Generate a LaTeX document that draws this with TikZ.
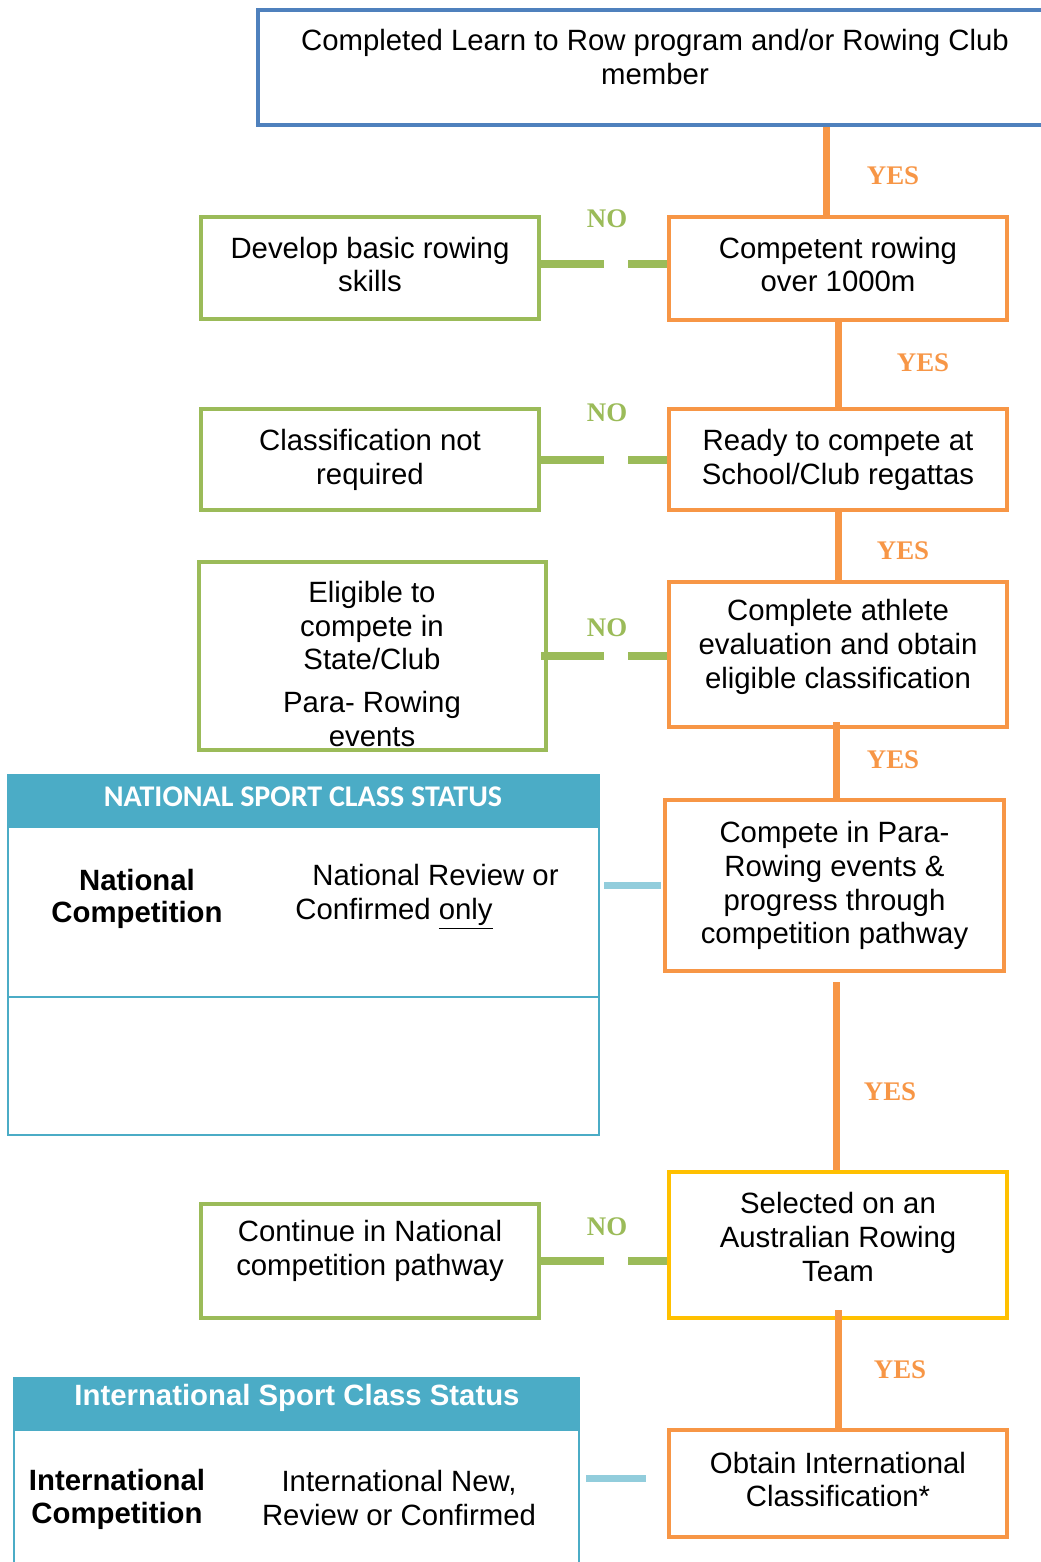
\documentclass[tikz,border=0pt]{standalone}
\usepackage{fontspec}
\setmainfont{Liberation Sans}
\newfontfamily\yesfont{Liberation Serif}
\newfontfamily\headfont{Carlito}
\usetikzlibrary{calc}
\definecolor{blueline}{HTML}{4F81BD}
\definecolor{orangeline}{HTML}{F79646}
\definecolor{greenline}{HTML}{9BBB59}
\definecolor{goldline}{HTML}{FFC000}
\definecolor{tealhead}{HTML}{4BACC6}
\definecolor{lightlink}{HTML}{92CDDC}
\def\bodysize{\fontsize{16.7}{19.3}\selectfont}
\tikzset{
	box/.style={draw, line width=0.09cm, align=center, inner sep=0pt, font=\bodysize},
	obox/.style={box, draw=orangeline},
	gbox/.style={box, draw=greenline},
	yesline/.style={orangeline, line width=0.14cm},
	noline/.style={greenline, line width=0.16cm, dash pattern=on 1.26cm off 0.48cm},
	infoline/.style={lightlink, line width=0.14cm},
	yestag/.style={orangeline, font=\yesfont\bfseries\fontsize{15.3}{18}\selectfont},
	notag/.style={greenline, font=\yesfont\bfseries\fontsize{15.3}{18}\selectfont},
	tframe/.style={draw=tealhead, line width=0.05cm, inner sep=0pt},
	thead/.style={fill=tealhead, draw=tealhead, line width=0.05cm, inner sep=0pt, text=white},
	ttext/.style={align=center, font=\bodysize},
}

\begin{document}
\begin{tikzpicture}[x=0.02cm, y=-0.02cm]
		%%%%% START %%%%%
		\clip (0,0) rectangle (1041,1562);
		
		\node[box, draw=blueline, minimum width=15.74cm, minimum height=2.3cm] (start) at (651.5,67.5) {};
		\node[ttext] (starttxt) at (655,57) {Completed Learn to Row program and/or Rowing Club\\member};
		
		\node[obox, minimum width=6.76cm, minimum height=2.06cm] (comp) at (838,268.5) {};
		\node[ttext] (comptxt) at (838,264.5) {Competent rowing\\over 1000m};
		\node[gbox, minimum width=6.76cm, minimum height=2.04cm] (dev) at (370,268) {};
		\node[ttext] (devtxt) at (370,264.5) {Develop basic rowing\\skills};
		
		\node[gbox, minimum width=6.76cm, minimum height=2.02cm] (cls) at (370,459.5) {Classification not\\required};
		\node[obox, minimum width=6.76cm, minimum height=2.02cm] (ready) at (838,459.5) {Ready to compete at\\School/Club regattas};
		
		\node[gbox, minimum width=6.94cm, minimum height=3.76cm] (elig) at (372.5,656) {};
		\node[ttext] (eligtxt) at (372,664) {Eligible to\\compete in\\State/Club\\[0.18cm]Para- Rowing\\events};
		\node[obox, minimum width=6.76cm, minimum height=2.9cm] (compl) at (838,654.5) {};
		\node[ttext] (compltxt) at (838,647) {Complete athlete\\evaluation and obtain\\eligible classification};
		
		\node[obox, minimum width=6.78cm, minimum height=3.42cm] (para) at (834.5,885.5) {Compete in Para-\\Rowing events \&\\progress through\\competition pathway};
		
		\node[box, draw=goldline, minimum width=6.76cm, minimum height=2.92cm] (sel) at (838,1245) {};
		\node[ttext] (seltxt) at (838,1237) {Selected on an\\Australian Rowing\\Team};
		\node[gbox, minimum width=6.76cm, minimum height=2.28cm] (cont) at (370,1261) {};
		\node[ttext] (conttxt) at (370,1251) {Continue in National\\competition pathway};
		
		\node[obox, minimum width=6.76cm, minimum height=2.14cm] (obt) at (838,1483.5) {};
		\node[ttext] (obttxt) at (838,1479.5) {Obtain International\\Classification*};
		
		% national table
		\node[tframe, minimum width=11.82cm, minimum height=7.2cm] (natbox) at (303.5,955) {};
		\node[thead, minimum width=11.82cm, minimum height=1.04cm] (nathead) at (303.5,801) {};
		\node[text=white, font=\headfont\bfseries\fontsize{17.1}{19}\selectfont] (natheadtxt) at (303,797) {NATIONAL SPORT CLASS STATUS};
		\draw[tealhead, line width=0.05cm] (8,997) -- (599,997);
		\node[ttext, font=\bfseries\fontsize{16.7}{18.2}\selectfont] (natcomp) at (137,899) {National\\Competition};
		\node[align=left, anchor=west, font=\bodysize, inner sep=0pt] (natrev) at (295,897) {\hspace*{0.34cm}National Review or\\Confirmed \underline{only}};
		
		% international table
		\node[tframe, minimum width=11.3cm, minimum height=4.44cm] (intbox) at (296.5,1489) {};
		\node[thead, minimum width=11.3cm, minimum height=1.04cm] (inthead) at (296.5,1404) {};
		\node[text=white, font=\bfseries\bodysize] (intheadtxt) at (297,1398) {International Sport Class Status};
		\node[ttext, font=\bfseries\fontsize{16.7}{18.8}\selectfont] (intcomp) at (117,1499) {International\\Competition};
		\node[ttext] (intrev) at (399,1498) {International New,\\Review or Confirmed};
		
		% yes connectors
		\draw[yesline] ([xshift=-0.24cm]comp.north |- start.south) -- ([xshift=-0.24cm]comp.north);
		\draw[yesline] (comp.south) -- (ready.north);
		\draw[yesline] (ready.south) -- (compl.north);
		\draw[yesline] ([xshift=-0.04cm, yshift=0.14cm]compl.south) -- ([xshift=-0.04cm]compl.south |- para.north);
		\draw[yesline, shorten <=0.18cm] ([xshift=0.03cm]para.south) -- ([xshift=0.03cm]para.south |- sel.north);
		\draw[yesline] ([yshift=0.2cm]sel.south) -- (obt.north);
		
		\node[yestag] (yes1) at (893,176) {YES};
		\node[yestag] (yes2) at (923,363) {YES};
		\node[yestag] (yes3) at (903,551) {YES};
		\node[yestag] (yes4) at (893,760) {YES};
		\node[yestag] (yes5) at (890,1092) {YES};
		\node[yestag] (yes6) at (900,1370) {YES};
		
		% no connectors
		\draw[noline] ([yshift=0.08cm]dev.east) -- ([yshift=0.08cm]dev.east -| comp.west);
		\draw[noline] (cls.east) -- (ready.west);
		\draw[noline, shorten <=-0.14cm] (elig.east) -- (elig.east -| compl.west);
		\draw[noline] (cont.east) -- (cont.east -| sel.west);
		
		\node[notag] (no1) at (607,219) {NO};
		\node[notag] (no2) at (607,413) {NO};
		\node[notag] (no3) at (607,628) {NO};
		\node[notag] (no4) at (607,1227) {NO};
		
		% status links
		\draw[infoline, shorten <=0.08cm, shorten >=0.04cm] (para.west -| natbox.east) -- (para.west);
		\draw[infoline, shorten <=0.12cm, shorten >=0.42cm] ([yshift=0.11cm]obt.west -| intbox.east) -- ([yshift=0.11cm]obt.west);
		
		%%%%% END %%%%%
\end{tikzpicture}
\end{document}
